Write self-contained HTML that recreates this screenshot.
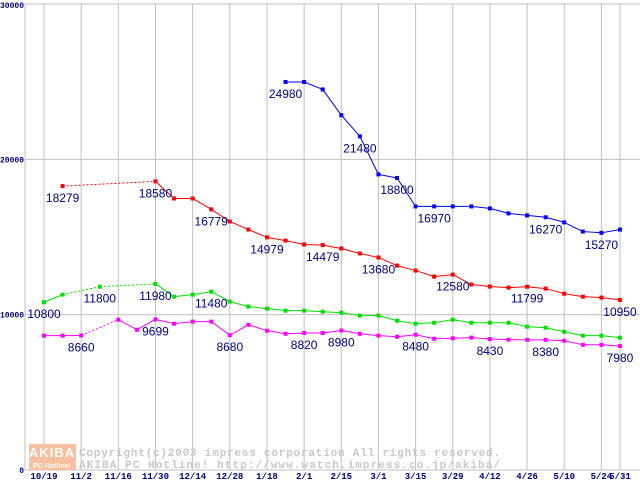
<!DOCTYPE html>
<html><head><meta charset="utf-8"><style>
html,body{margin:0;padding:0;background:#fff;}
svg{display:block;}
</style></head><body>
<svg id="chart" width="640" height="480" xmlns="http://www.w3.org/2000/svg" style="font-family:'Liberation Sans',sans-serif;">
<rect width="640" height="480" fill="#fff"/>
<g id="grid"></g>
<g id="watermark">
<rect x="29" y="444" width="47" height="26" fill="#f8c0a0"/>
<text x="52" y="457" font-size="13" font-weight="bold" fill="#fff" text-anchor="middle" letter-spacing="1">AKIBA</text>
<text x="52" y="468" font-size="7" font-weight="bold" fill="#fff" text-anchor="middle">PC Hotline!</text>
<text x="79" y="456" font-size="11" font-weight="bold" fill="#c8c8c8" font-family="Liberation Mono, monospace" textLength="421">Copyright(c)2003 impress corporation All rights reserved.</text>
<text x="79" y="468" font-size="11" font-weight="bold" fill="#c8c8c8" font-family="Liberation Mono, monospace" textLength="421">AKIBA PC Hotline!  http://www.watch.impress.co.jp/akiba/</text>
</g>
<g id="axes"></g>
<g id="series"></g>
</svg>
<script>
const xLabels=["10/19","","11/2","","11/16","","11/30","","12/14","","12/28","","1/18","","2/1","","2/15","","3/1","","3/15","","3/29","","4/12","","4/26","","5/10","","5/24","5/31"];
const yTicks=[0,10000,20000,30000];
const blue=[null,null,null,null,null,null,null,null,null,null,null,null,null,24980,24980,24500,22840,21480,19030,18800,16970,16970,16970,16970,16840,16520,16390,16270,15940,15350,15270,15480];
const red=[null,18279,null,null,null,null,18580,17480,17480,16779,16000,15480,14979,14770,14520,14479,14260,13940,13680,13160,12840,12450,12580,11940,11810,11740,11799,11680,11350,11160,11100,10950];
const green=[10800,11290,null,11800,null,null,11980,11160,11290,11480,10840,10520,10390,10260,10260,10190,10130,9940,9940,9610,9420,9480,9680,9480,9480,9480,9230,9160,8900,8650,8650,8520];
const magenta=[8650,8650,8660,null,9680,9030,9699,9420,9550,9550,8680,9350,8970,8770,8820,8820,8980,8770,8650,8580,8710,8450,8480,8520,8430,8390,8380,8380,8320,8060,8060,7980];
const blueLabels=[13,17,19,21,27,30];
const redLabels=[1,6,9,12,15,18,22,26,31];
const greenLabels=[0,3,6,9];
const magentaLabels=[2,6,10,14,16,20,24,27,31];
const blueLabelVals=[24980,21480,18800,16970,16270,15270];
const redLabelVals=[18279,18580,16779,14979,14479,13680,12580,11799,10950];
const greenLabelVals=[10800,11800,11980,11480];
const magentaLabelVals=[8660,9699,8680,8820,8980,8480,8430,8380,7980];

const NS="http://www.w3.org/2000/svg";
function xS(i){return 44+i*18.58;}
function yS(v){return 470-v*466/30000;}
function mk(tag,attrs,parent){const e=document.createElementNS(NS,tag);for(const k in attrs)e.setAttribute(k,attrs[k]);parent.appendChild(e);return e;}
const grid=document.getElementById('grid'),axes=document.getElementById('axes'),ser=document.getElementById('series');
yTicks.forEach((t,k)=>{
  const l=mk('line',{x1:25,x2:640,y1:yS(t),y2:yS(t),stroke:'#c0c0c0','stroke-width':1},grid);
  
  
  const tx=mk('text',{x:24,y:Math.max(yS(t)+3,8),'font-size':8,'font-weight':'bold',fill:'#000080','text-anchor':'end','font-family':'Liberation Mono, monospace'},axes);
  tx.textContent=String(t);
  
  
});
mk('line',{x1:25,x2:25,y1:4,y2:470,stroke:'#c0c0c0'},grid);
xLabels.forEach((lab,i)=>{
  if(!lab)return;
  const l=mk('line',{x1:xS(i),x2:xS(i),y1:4,y2:470,stroke:'#c0c0c0'},grid);
  
  
  const tx=mk('text',{x:xS(i),y:479,'font-size':9,'font-weight':'bold',fill:'#000080','text-anchor':'middle','font-family':'Liberation Mono, monospace'},axes);
  tx.textContent=lab;
  
  
});
function drawSeries(vals,color,labelIdx,labelVals,name){
  const g=mk('g',{},ser);
  
  
  let prev=-1;
  vals.forEach((v,i)=>{
    if(v==null)return;
    if(prev>=0){
      const a={x1:xS(prev),y1:yS(vals[prev]),x2:xS(i),y2:yS(v),stroke:color,'stroke-width':1};
      if(i-prev>1)a['stroke-dasharray']='2,2';
      const l=mk('line',a,g);
      
      
    }
    prev=i;
  });
  vals.forEach((v,i)=>{
    if(v==null)return;
    const r=mk('rect',{x:xS(i)-2,y:yS(v)-2,width:4,height:4,fill:color},g);
    
    
  });
  labelIdx.forEach((i,k)=>{
    const tx=mk('text',{x:xS(i),y:yS(vals[i])+16,'font-size':12,fill:'#000080','text-anchor':'middle'},g);
    tx.textContent=String(labelVals[k]);
    
    
  });
}
drawSeries(red,'#ff0000',redLabels,redLabelVals,'red');
drawSeries(green,'#00e000',greenLabels,greenLabelVals,'green');
drawSeries(magenta,'#ff00ff',magentaLabels,magentaLabelVals,'magenta');
drawSeries(blue,'#0000ff',blueLabels,blueLabelVals,'blue');
</script>
</body></html>
